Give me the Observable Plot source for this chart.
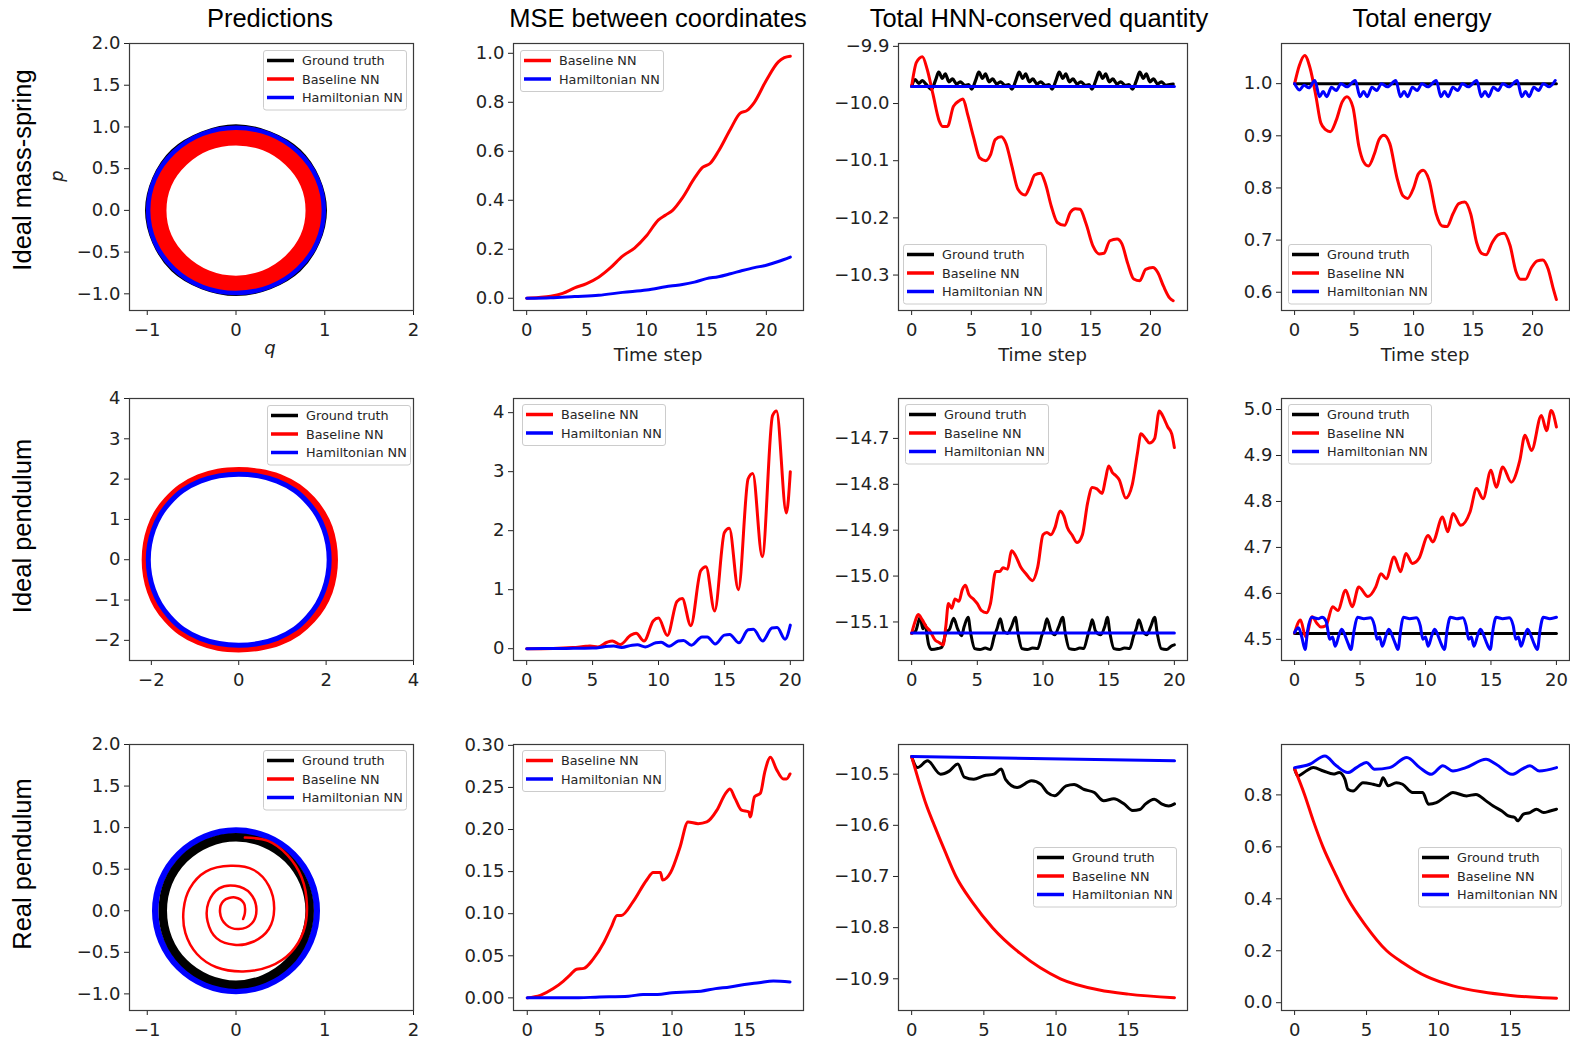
<!DOCTYPE html>
<html><head><meta charset="utf-8">
<script src="https://cdn.jsdelivr.net/npm/d3@7"></script>
<script src="https://cdn.jsdelivr.net/npm/@observablehq/plot@0.6"></script>
<style>
body{margin:0;background:#fff;}
#root{position:relative;width:1570px;height:1040px;overflow:hidden;background:#fff;}
</style></head><body><div id="root"></div>
<script>
// ---------- labels ----------
const columnTitles = ["Predictions", "MSE between coordinates", "Total HNN-conserved quantity", "Total energy"];
const rowTitles = ["Ideal mass-spring", "Ideal pendulum", "Real pendulum"];
const seriesNames = ["Ground truth", "Baseline NN", "Hamiltonian NN"];
const seriesColors = ["#000000", "#ff0000", "#0000ff"];

// ---------- Row 1: ideal mass-spring ----------
const msGtQ = [1.00,0.92,0.71,0.38,0.00,-0.38,-0.71,-0.92,-1.00,-0.92,-0.71,-0.38,0.00,0.38,0.71,0.92];
const msGtP = [0.00,0.38,0.71,0.92,1.005,0.92,0.71,0.38,0.00,-0.38,-0.71,-0.92,-1.00,-0.92,-0.71,-0.38];
const msBaseQ = [0.885,0.82,0.625,0.34,0.00,-0.34,-0.625,-0.82,-0.885,-0.82,-0.625,-0.34,0.00,0.34,0.625,0.82];
const msBaseP = [0.00,0.34,0.625,0.82,0.885,0.82,0.625,0.34,0.00,-0.34,-0.625,-0.82,-0.89,-0.82,-0.625,-0.34];
const msHnnQ = [0.99,0.915,0.70,0.38,0.00,-0.38,-0.70,-0.915,-0.99,-0.915,-0.70,-0.38,0.00,0.38,0.70,0.915];
const msHnnP = [0.00,0.38,0.70,0.915,0.99,0.915,0.70,0.38,0.00,-0.38,-0.70,-0.915,-0.99,-0.915,-0.70,-0.38];

const msMseBaseT = [0,1,2,3,4,5,6,7,8,9,10,11,11.6,12.2,13,14,14.7,15.3,16,17,17.8,18.4,19,20,21,21.5,22];
const msMseBase = [0,0.003,0.008,0.02,0.042,0.06,0.086,0.125,0.172,0.205,0.255,0.32,0.34,0.36,0.41,0.49,0.535,0.55,0.6,0.69,0.755,0.767,0.8,0.89,0.965,0.982,0.988];
const msMseHnnT = [0,2,4,6,8,10,12,13,14,15,16,17,18,19,20,21,22];
const msMseHnn = [0,0.002,0.007,0.012,0.024,0.034,0.05,0.056,0.066,0.08,0.088,0.1,0.113,0.125,0.135,0.15,0.168];

const msHnqGtT = [0,0.3,0.6,0.9,1.2,1.67, 2.02,2.27,2.57,2.82,3.12,3.42,3.77,4.07,4.47,4.77, 5.03,5.38,5.63,5.93,6.18,6.48,6.78,7.13,7.43,7.83,8.13, 8.4,8.75,9.0,9.3,9.55,9.85,10.15,10.5,10.8,11.2,11.5, 11.76,12.11,12.36,12.66,12.91,13.21,13.51,13.86,14.16,14.56,14.86, 15.1,15.45,15.7,16.0,16.25,16.55,16.85,17.2,17.5,17.9,18.2, 18.5,18.85,19.1,19.4,19.65,19.95,20.25,20.6,20.9,21.3,21.6,21.9];
const msHnqGt = [-9.97,-9.958,-9.965,-9.96,-9.966,-9.975,
 -9.958,-9.945,-9.956,-9.948,-9.962,-9.957,-9.966,-9.962,-9.968,-9.967,
 -9.975,-9.958,-9.945,-9.956,-9.948,-9.962,-9.957,-9.966,-9.962,-9.968,-9.967,
 -9.975,-9.958,-9.945,-9.956,-9.948,-9.962,-9.957,-9.966,-9.962,-9.968,-9.967,
 -9.975,-9.958,-9.945,-9.956,-9.948,-9.962,-9.957,-9.966,-9.962,-9.968,-9.967,
 -9.975,-9.958,-9.945,-9.956,-9.948,-9.962,-9.957,-9.966,-9.962,-9.968,-9.967,
 -9.975,-9.958,-9.945,-9.956,-9.948,-9.962,-9.957,-9.966,-9.962,-9.968,-9.967,-9.966];
const msHnqBaseT = [0,0.4,0.9,1.3,1.8,2.3,2.6,3.0,3.5,4.0,4.3,4.7,5.2,5.7,6.2,6.6,7.0,7.5,7.9,8.4,8.9,9.5,9.9,10.3,10.8,11.2,11.7,12.2,12.8,13.3,13.7,14.1,14.6,15.2,15.7,16.1,16.6,17.2,17.6,18.1,18.6,19.1,19.6,20.2,20.6,21.1,21.6,21.9];
const msHnqBase = [-9.97,-9.928,-9.918,-9.94,-9.985,-10.03,-10.04,-10.04,-10.005,-9.995,-9.992,-10.02,-10.06,-10.095,-10.1,-10.09,-10.063,-10.058,-10.07,-10.11,-10.15,-10.16,-10.145,-10.125,-10.122,-10.14,-10.18,-10.208,-10.213,-10.19,-10.184,-10.185,-10.21,-10.25,-10.263,-10.262,-10.24,-10.237,-10.245,-10.28,-10.307,-10.31,-10.29,-10.287,-10.295,-10.32,-10.34,-10.345];
const msHnqHnnT = [0,22];
const msHnqHnn = [-9.97,-9.97];

const msEnGtT = [0,22];
const msEnGt = [1.0,1.0];
const msEnBaseT = [0,0.4,0.85,1.3,1.8,2.2,2.6,3.0,3.5,4.0,4.4,4.9,5.4,5.8,6.2,6.7,7.1,7.5,8.0,8.6,9.1,9.5,10.0,10.4,10.8,11.3,11.9,12.4,12.8,13.3,13.8,14.3,14.8,15.3,15.7,16.1,16.6,17.1,17.6,18.1,18.6,19.0,19.4,19.9,20.4,20.85,21.3,21.7,22.0];
const msEnBase = [1.0,1.035,1.054,1.03,0.975,0.925,0.912,0.908,0.93,0.965,0.975,0.955,0.88,0.85,0.842,0.865,0.893,0.901,0.885,0.82,0.785,0.78,0.8,0.827,0.834,0.815,0.75,0.727,0.726,0.75,0.77,0.773,0.75,0.695,0.675,0.672,0.695,0.71,0.713,0.69,0.64,0.625,0.625,0.647,0.66,0.662,0.645,0.61,0.586];
const msEnHnnT = [0,0.4,0.8,1.2, 1.7,2.1,2.4,2.7,3.1,3.5,3.9,4.4, 5.1,5.5,5.8,6.1,6.5,6.9,7.3,7.8, 8.5,8.9,9.2,9.5,9.9,10.3,10.7,11.2, 11.9,12.3,12.6,12.9,13.3,13.7,14.1,14.6, 15.3,15.7,16.0,16.3,16.7,17.1,17.5,18.0, 18.7,19.1,19.4,19.7,20.1,20.5,20.9,21.4,21.9];
const msEnHnn = [1.0,0.988,0.997,0.992,
 1.006,0.975,0.985,0.975,0.993,0.987,1.0,0.994,
 1.006,0.975,0.985,0.975,0.993,0.987,1.0,0.994,
 1.006,0.975,0.985,0.975,0.993,0.987,1.0,0.994,
 1.006,0.975,0.985,0.975,0.993,0.987,1.0,0.994,
 1.006,0.975,0.985,0.975,0.993,0.987,1.0,0.994,
 1.006,0.975,0.985,0.975,0.993,0.987,1.0,0.994,1.006];

// ---------- Row 2: ideal pendulum ----------
const ipHnnQ = [2.07,2.04,1.95,1.80,1.58,1.28,0.88,0.45, 0,-0.45,-0.88,-1.28,-1.58,-1.80,-1.95,-2.04, -2.07,-2.04,-1.95,-1.80,-1.58,-1.28,-0.88,-0.45, 0,0.45,0.88,1.28,1.58,1.80,1.95,2.04];
const ipHnnP = [0,0.38,0.75,1.10,1.42,1.72,1.95,2.08, 2.12,2.08,1.95,1.72,1.42,1.10,0.75,0.38, 0,-0.38,-0.75,-1.10,-1.42,-1.72,-1.95,-2.08, -2.12,-2.08,-1.95,-1.72,-1.42,-1.10,-0.75,-0.38];
const ipBaseQ = [2.18,2.15,2.06,1.90,1.67,1.35,0.93,0.47, 0,-0.47,-0.91,-1.32,-1.63,-1.86,-2.01,-2.10, -2.13,-2.10,-2.01,-1.86,-1.63,-1.32,-0.91,-0.47, 0,0.47,0.93,1.35,1.67,1.90,2.06,2.15];
const ipBaseP = [0,0.40,0.79,1.15,1.48,1.79,2.03,2.16, 2.2,2.16,2.02,1.78,1.47,1.14,0.78,0.40, 0,-0.40,-0.78,-1.14,-1.47,-1.78,-2.02,-2.16, -2.2,-2.16,-2.03,-1.79,-1.48,-1.15,-0.79,-0.40];

const ipMseBaseT = [0,2,3.5,4.5,4.8,5.4,6.1,6.5,7.1,7.9,8.3,8.9,9.6,10.0,10.67,11.4,11.8,12.45,13.2,13.6,14.26,15.0,15.37,16.06,16.8,17.15,17.87,18.65,18.95,19.7,20.0];
const ipMseBase = [0,0.005,0.02,0.04,0.045,0.03,0.11,0.13,0.07,0.23,0.26,0.13,0.47,0.52,0.225,0.8,0.85,0.39,1.32,1.39,0.64,1.97,2.04,1.0,2.88,2.97,1.56,3.95,4.03,2.3,3.0];
const ipMseHnnT = [0,3,5,6.2,6.6,7.2,8.0,8.4,9.0,9.8,10.2,10.8,11.5,11.9,12.5,13.3,13.7,14.3,15.0,15.4,16.1,16.8,17.2,17.9,18.6,19.0,19.6,20.0];
const ipMseHnn = [0,0.005,0.01,0.04,0.045,0.02,0.06,0.065,0.03,0.1,0.11,0.04,0.13,0.14,0.06,0.2,0.2,0.08,0.23,0.24,0.1,0.32,0.33,0.13,0.35,0.36,0.16,0.4];

const ipHnqGtT = [0,0.3,0.65,0.85,1.0,1.3,1.5,2.0,2.3,2.6,2.9,3.2,3.5,3.8,4.0,4.3,4.5,4.8,5.2,5.6,6.0,6.3,6.5,6.75,7.0,7.3,7.6,7.9,8.1,8.4,8.8,9.2,9.6,9.9,10.1,10.3,10.6,10.9,11.2,11.5,11.7,12.0,12.4,12.8,13.1,13.4,13.6,13.75,14.0,14.4,14.7,14.9,15.1,15.4,15.8,16.2,16.6,16.9,17.1,17.3,17.6,17.9,18.2,18.5,18.7,19.0,19.4,19.8,20.0];
const ipHnqGt = [-15.125,-15.12,-15.09,-15.115,-15.105,-15.15,-15.16,-15.158,-15.155,-15.125,-15.115,-15.092,-15.115,-15.13,-15.11,-15.09,-15.125,-15.158,-15.16,-15.157,-15.16,-15.13,-15.115,-15.093,-15.12,-15.125,-15.11,-15.09,-15.125,-15.158,-15.16,-15.157,-15.158,-15.13,-15.115,-15.093,-15.12,-15.128,-15.11,-15.09,-15.125,-15.158,-15.16,-15.157,-15.158,-15.13,-15.11,-15.095,-15.12,-15.128,-15.11,-15.09,-15.125,-15.158,-15.16,-15.157,-15.158,-15.13,-15.115,-15.095,-15.12,-15.128,-15.11,-15.09,-15.125,-15.158,-15.16,-15.152,-15.15];
const ipHnqBaseT = [0,0.25,0.5,0.8,1.1,1.4,1.8,2.1,2.4,2.6,2.8,3.05,3.3,3.6,3.85,4.1,4.35,4.7,5.0,5.3,5.7,6.0,6.4,6.7,6.95,7.3,7.6,7.9,8.3,8.7,9.2,9.6,10.0,10.3,10.6,10.9,11.3,11.6,11.85,12.2,12.6,13.0,13.4,13.75,14.1,14.5,14.75,15.0,15.3,15.5,15.8,16.3,16.8,17.2,17.45,17.8,18.1,18.5,18.85,19.1,19.5,19.8,20.0];
const ipHnqBase = [-15.125,-15.1,-15.084,-15.095,-15.11,-15.12,-15.14,-15.145,-15.15,-15.11,-15.06,-15.07,-15.05,-15.055,-15.03,-15.02,-15.04,-15.05,-15.06,-15.075,-15.08,-15.06,-14.99,-14.99,-14.982,-14.985,-14.945,-14.955,-14.98,-14.995,-15.01,-14.98,-14.91,-14.905,-14.91,-14.895,-14.858,-14.87,-14.894,-14.91,-14.927,-14.91,-14.84,-14.807,-14.81,-14.82,-14.79,-14.76,-14.775,-14.78,-14.79,-14.83,-14.8,-14.73,-14.69,-14.7,-14.71,-14.7,-14.64,-14.65,-14.675,-14.69,-14.72];
const ipHnqHnnT = [0,20];
const ipHnqHnn = [-15.124,-15.124];

const ipEnGtT = [0,20];
const ipEnGt = [4.513,4.513];
const ipEnBaseT = [0,0.45,0.85,1.35,1.7,2.0,2.4,2.9,3.3,3.9,4.4,4.9,5.6,6.2,6.6,7.0,7.6,8.1,8.5,9.0,9.5,10.2,10.55,11.3,11.7,12.1,12.7,13.4,13.9,14.4,15.0,15.4,15.9,16.55,17.2,17.6,18.1,18.85,19.25,19.6,20.0];
const ipEnBase = [4.514,4.542,4.505,4.549,4.535,4.527,4.53,4.571,4.563,4.607,4.571,4.614,4.593,4.614,4.643,4.632,4.679,4.647,4.687,4.665,4.676,4.726,4.712,4.766,4.734,4.774,4.748,4.777,4.828,4.806,4.868,4.831,4.875,4.842,4.889,4.944,4.911,4.987,4.954,4.998,4.962];
const ipEnHnnT = [0,0.3,0.55,0.8,1.0,1.3,1.8,2.1,2.4,2.7,2.9,3.1,3.4,3.6,3.9,4.1,4.3,4.55,4.8,5.3,5.8,6.1,6.3,6.5,6.7,7.0,7.2,7.5,7.7,7.9,8.1,8.3,8.8,9.3,9.6,9.8,10.0,10.2,10.5,10.7,11.0,11.2,11.45,11.65,11.9,12.4,12.85,13.1,13.3,13.5,13.7,14.0,14.2,14.5,14.7,14.95,15.15,15.4,15.9,16.4,16.7,16.9,17.1,17.3,17.6,17.8,18.1,18.3,18.55,18.75,19.0,19.5,20.0];
const ipEnHnn = [4.515,4.525,4.505,4.478,4.52,4.548,4.545,4.548,4.54,4.5,4.505,4.485,4.51,4.522,4.505,4.49,4.478,4.52,4.548,4.545,4.547,4.53,4.5,4.505,4.485,4.51,4.522,4.505,4.49,4.478,4.52,4.548,4.545,4.547,4.53,4.5,4.505,4.485,4.51,4.522,4.505,4.49,4.478,4.52,4.548,4.545,4.547,4.53,4.5,4.505,4.485,4.51,4.522,4.505,4.49,4.478,4.52,4.548,4.545,4.547,4.53,4.5,4.505,4.485,4.51,4.522,4.505,4.49,4.478,4.52,4.548,4.545,4.548];

// ---------- Row 3: real pendulum ----------
const rpHnnQ = [0.91,0.84,0.645,0.35,0,-0.35,-0.645,-0.84,-0.91,-0.84,-0.645,-0.35,0,0.35,0.645,0.84];
const rpHnnP = [0,0.37,0.68,0.89,0.965,0.89,0.68,0.37,0,-0.37,-0.68,-0.89,-0.965,-0.89,-0.68,-0.37];
const rpGtQ = [0.83,0.765,0.585,0.317,0,-0.317,-0.585,-0.765,-0.825,-0.765,-0.585,-0.317,0,0.317,0.585,0.765];
const rpGtP = [0,0.338,0.625,0.815,0.885,0.815,0.625,0.338,0,-0.34,-0.63,-0.82,-0.89,-0.82,-0.63,-0.34];
const rpBaseQ = [0.10,0.36,0.58,0.74,0.80,0.76,0.62,0.38,0.08,-0.22,-0.44,-0.57,-0.59,-0.52,-0.34,-0.06,0.20,0.37,0.43,0.37,0.20,-0.02,-0.22,-0.32,-0.31,-0.19,-0.01,0.16,0.23,0.18,0.03,-0.11,-0.18,-0.14,-0.01,0.09,0.10,0.08];
const rpBaseP = [0.88,0.84,0.67,0.40,0.05,-0.25,-0.50,-0.67,-0.73,-0.68,-0.52,-0.27,0.02,0.27,0.47,0.54,0.49,0.30,0.02,-0.22,-0.37,-0.41,-0.33,-0.13,0.10,0.27,0.30,0.21,0.02,-0.15,-0.22,-0.17,-0.02,0.12,0.16,0.09,-0.03,-0.10];

const rpMseBaseT = [0,0.9,1.8,2.5,2.95,3.4,3.9,4.55,5.3,5.8,6.2,6.5,7.3,8.25,8.7,9.2,9.35,9.9,10.55,11.1,11.8,12.4,13.1,13.7,14.0,14.35,14.8,15.3,15.4,15.7,16.1,16.4,16.8,17.2,17.7,17.9,18.15];
const rpMseBase = [0,0.003,0.011,0.02,0.027,0.034,0.035,0.046,0.066,0.084,0.098,0.098,0.114,0.14,0.149,0.149,0.14,0.149,0.179,0.209,0.207,0.209,0.223,0.243,0.248,0.237,0.223,0.221,0.215,0.239,0.243,0.268,0.286,0.272,0.26,0.26,0.266];
const rpMseHnnT = [0,3,5,7,8,9,10,11,12,13,14,15,16,17,18.15];
const rpMseHnn = [0,0,0.001,0.002,0.004,0.004,0.006,0.007,0.008,0.011,0.013,0.016,0.018,0.02,0.019];

const rpHnqGtT = [0,0.4,1.1,2.0,2.6,3.2,3.65,4.3,5.0,5.7,6.2,6.5,7.3,8.3,8.95,9.4,9.9,10.7,11.25,11.95,12.65,13.3,14.0,14.7,15.3,15.8,16.2,16.8,17.3,17.8,18.2];
const rpHnqGt = [-10.466,-10.487,-10.474,-10.5,-10.494,-10.48,-10.506,-10.51,-10.503,-10.5,-10.49,-10.51,-10.526,-10.513,-10.52,-10.536,-10.542,-10.523,-10.52,-10.53,-10.536,-10.552,-10.548,-10.558,-10.571,-10.569,-10.558,-10.549,-10.558,-10.562,-10.558];
const rpHnqBaseT = [0,0.5,1.0,1.57,2.3,3.07,4.2,5.6,7.5,10.3,13,15,18.2];
const rpHnqBase = [-10.466,-10.514,-10.559,-10.6,-10.65,-10.7,-10.75,-10.8,-10.85,-10.9,-10.922,-10.93,-10.937];
const rpHnqHnnT = [0,18.2];
const rpHnqHnn = [-10.4656,-10.474];

const rpEnGtT = [0,0.23,0.8,1.3,2.0,2.7,3.1,3.5,3.7,4.06,4.75,5.45,5.9,6.14,6.5,7.07,7.5,8.2,8.9,9.3,9.85,10.55,11.0,11.95,12.6,13.3,13.8,14.4,14.85,15.3,15.5,15.9,16.35,16.8,17.3,17.75,18.2];
const rpEnGt = [0.9,0.873,0.892,0.905,0.892,0.88,0.886,0.86,0.822,0.815,0.847,0.841,0.835,0.866,0.835,0.847,0.841,0.809,0.809,0.764,0.77,0.796,0.809,0.796,0.802,0.777,0.757,0.738,0.719,0.713,0.7,0.726,0.732,0.745,0.732,0.738,0.745];
const rpEnBaseT = [0,0.7,1.3,1.97,2.8,3.7,4.9,6.4,7.5,9.2,11,13,15,17,18.2];
const rpEnBase = [0.9,0.8,0.7,0.6,0.5,0.4,0.3,0.2,0.155,0.1,0.065,0.042,0.028,0.02,0.017];
const rpEnHnnT = [0,1.05,2.1,2.9,3.7,4.3,5.0,5.55,6.6,7.8,8.7,9.5,10.3,11.0,11.9,13.3,14.0,15.1,15.8,16.35,17.0,18.2];
const rpEnHnn = [0.905,0.918,0.95,0.912,0.886,0.905,0.925,0.899,0.905,0.944,0.905,0.879,0.912,0.892,0.905,0.937,0.918,0.879,0.899,0.912,0.892,0.905];

// ---------- tick values ----------
const ticksQ1 = [-1,0,1,2];
const ticksP1 = [-1.0,-0.5,0.0,0.5,1.0,1.5,2.0];
const ticksT22 = [0,5,10,15,20];
const ticksT18 = [0,5,10,15];
const ticksMse1 = [0,0.2,0.4,0.6,0.8,1.0];
const ticksHnq1 = [-10.3,-10.2,-10.1,-10.0,-9.9];
const ticksEn1 = [0.6,0.7,0.8,0.9,1.0];
const ticksQ2 = [-2,0,2,4];
const ticksP2 = [-2,-1,0,1,2,3,4];
const ticksMse2 = [0,1,2,3,4];
const ticksHnq2 = [-15.1,-15.0,-14.9,-14.8,-14.7];
const ticksEn2 = [4.5,4.6,4.7,4.8,4.9,5.0];
const ticksMse3 = [0,0.05,0.10,0.15,0.20,0.25,0.30];
const ticksHnq3 = [-10.9,-10.8,-10.7,-10.6,-10.5];
const ticksEn3 = [0.0,0.2,0.4,0.6,0.8];

// ---------- layout ----------
const FRAME_X = [[129,413],[513,803],[898,1187],[1281,1569]];
const FRAME_Y = [[43,310],[398,660],[744,1010]];
const root = document.getElementById("root");
const f1 = d3.format(".1f"), f2 = d3.format(".2f"), fd = d3.format("d");
const BLACK = seriesColors[0], RED = seriesColors[1], BLUE = seriesColors[2];

function S(x, y, color, width, curve) { return {x, y, color, width, curve}; }

function addPanel(row, col, o) {
  const [x0, x1] = FRAME_X[col], [y0, y1] = FRAME_Y[row];
  const mL = 80, mR = 1, mT = 2, mB = 40;
  const width = x1 - x0 + mL + mR, height = y1 - y0 + mT + mB;
  const marks = o.series.map(s => Plot.line(s.x.map((x, i) => ({x, y: s.y[i]})), {
    x: "x", y: "y", stroke: s.color, strokeWidth: s.width,
    curve: s.curve || "monotone-x", strokeLinejoin: "round"
  }));
  marks.push(Plot.frame({stroke: "#3a3a3a", strokeWidth: 1.2}));
  const svg = Plot.plot({
    width, height, marginLeft: mL, marginRight: mR, marginTop: mT, marginBottom: mB,
    x: {domain: o.xDomain, ticks: o.xTicks, tickFormat: o.xFmt, tickSize: 5, tickPadding: 8, label: null},
    y: {domain: o.yDomain, ticks: o.yTicks, tickFormat: o.yFmt, tickSize: 5, tickPadding: 4, label: null},
    style: {background: "transparent", fontFamily: "DejaVu Sans", fontSize: "18px", color: "#222", overflow: "visible", maxWidth: "none"},
    marks
  });
  svg.style.position = "absolute";
  svg.style.left = (x0 - mL) + "px";
  svg.style.top = (y0 - mT) + "px";
  root.appendChild(svg);
}

const closed = "catmull-rom-closed";
// Row 1
addPanel(0, 0, {xDomain: [-1.2, 2], yDomain: [-1.2, 2.0], xTicks: ticksQ1, yTicks: ticksP1, xFmt: fd, yFmt: f1,
  series: [S(msGtQ, msGtP, BLACK, 4.5, closed), S(msBaseQ, msBaseP, RED, 18, closed), S(msHnnQ, msHnnP, BLUE, 4.5, closed)]});
addPanel(0, 1, {xDomain: [-1.1, 23.1], yDomain: [-0.05, 1.04], xTicks: ticksT22, yTicks: ticksMse1, xFmt: fd, yFmt: f1,
  series: [S(msMseBaseT, msMseBase, RED, 3), S(msMseHnnT, msMseHnn, BLUE, 3)]});
addPanel(0, 2, {xDomain: [-1.1, 23.1], yDomain: [-10.362, -9.895], xTicks: ticksT22, yTicks: ticksHnq1, xFmt: fd, yFmt: f1,
  series: [S(msHnqGtT, msHnqGt, BLACK, 3.2), S(msHnqBaseT, msHnqBase, RED, 3), S(msHnqHnnT, msHnqHnn, BLUE, 3)]});
addPanel(0, 3, {xDomain: [-1.1, 23.1], yDomain: [0.565, 1.077], xTicks: ticksT22, yTicks: ticksEn1, xFmt: fd, yFmt: f1,
  series: [S(msEnGtT, msEnGt, BLACK, 3), S(msEnBaseT, msEnBase, RED, 3), S(msEnHnnT, msEnHnn, BLUE, 3)]});
// Row 2
addPanel(1, 0, {xDomain: [-2.5, 4], yDomain: [-2.5, 4], xTicks: ticksQ2, yTicks: ticksP2, xFmt: fd, yFmt: fd,
  series: [S(ipHnnQ, ipHnnP, BLACK, 3, closed), S(ipBaseQ, ipBaseP, RED, 8, closed), S(ipHnnQ, ipHnnP, BLUE, 5, closed)]});
addPanel(1, 1, {xDomain: [-1, 21], yDomain: [-0.2, 4.24], xTicks: ticksT22, yTicks: ticksMse2, xFmt: fd, yFmt: fd,
  series: [S(ipMseBaseT, ipMseBase, RED, 3), S(ipMseHnnT, ipMseHnn, BLUE, 3)]});
addPanel(1, 2, {xDomain: [-1, 21], yDomain: [-15.184, -14.613], xTicks: ticksT22, yTicks: ticksHnq2, xFmt: fd, yFmt: f1,
  series: [S(ipHnqGtT, ipHnqGt, BLACK, 3), S(ipHnqBaseT, ipHnqBase, RED, 3), S(ipHnqHnnT, ipHnqHnn, BLUE, 3)]});
addPanel(1, 3, {xDomain: [-1, 21], yDomain: [4.454, 5.024], xTicks: ticksT22, yTicks: ticksEn2, xFmt: fd, yFmt: f1,
  series: [S(ipEnGtT, ipEnGt, BLACK, 3), S(ipEnBaseT, ipEnBase, RED, 3), S(ipEnHnnT, ipEnHnn, BLUE, 3)]});
// Row 3
addPanel(2, 0, {xDomain: [-1.2, 2], yDomain: [-1.2, 2.0], xTicks: ticksQ1, yTicks: ticksP1, xFmt: fd, yFmt: f1,
  series: [S(rpHnnQ, rpHnnP, BLUE, 6.5, closed), S(rpGtQ, rpGtP, BLACK, 8.5, closed), S(rpBaseQ, rpBaseP, RED, 2.5, "catmull-rom")]});
addPanel(2, 1, {xDomain: [-0.95, 19.08], yDomain: [-0.015, 0.301], xTicks: ticksT18, yTicks: ticksMse3, xFmt: fd, yFmt: f2,
  series: [S(rpMseBaseT, rpMseBase, RED, 3), S(rpMseHnnT, rpMseHnn, BLUE, 3)]});
addPanel(2, 2, {xDomain: [-0.91, 19.1], yDomain: [-10.962, -10.442], xTicks: ticksT18, yTicks: ticksHnq3, xFmt: fd, yFmt: f1,
  series: [S(rpHnqGtT, rpHnqGt, BLACK, 3), S(rpHnqBaseT, rpHnqBase, RED, 3), S(rpHnqHnnT, rpHnqHnn, BLUE, 3)]});
addPanel(2, 3, {xDomain: [-0.91, 19.1], yDomain: [-0.03, 0.994], xTicks: ticksT18, yTicks: ticksEn3, xFmt: fd, yFmt: f1,
  series: [S(rpEnGtT, rpEnGt, BLACK, 3), S(rpEnBaseT, rpEnBase, RED, 3), S(rpEnHnnT, rpEnHnn, BLUE, 3)]});

// ---------- overlay: titles, labels, legends ----------
const ov = d3.select(root).append("svg").attr("width", 1570).attr("height", 1040)
  .style("position", "absolute").style("left", "0px").style("top", "0px");

const titleX = [270, 658, 1039, 1422];
columnTitles.forEach((t, i) => ov.append("text").attr("x", titleX[i]).attr("y", 27)
  .attr("text-anchor", "middle").attr("font-family", "Liberation Sans, Arial, sans-serif")
  .attr("font-size", 25.5).attr("fill", "#000").text(t));

const rowY = [170, 526, 864];
rowTitles.forEach((t, i) => ov.append("text").attr("transform", `translate(31,${rowY[i]}) rotate(-90)`)
  .attr("text-anchor", "middle").attr("font-family", "Liberation Sans, Arial, sans-serif")
  .attr("font-size", 25.5).attr("fill", "#000").text(t));

// axis labels
ov.append("text").attr("x", 270).attr("y", 354).attr("text-anchor", "middle")
  .attr("font-family", "DejaVu Sans").attr("font-style", "italic").attr("font-size", 18).attr("fill", "#222").text("q");
ov.append("text").attr("transform", "translate(63,176) rotate(-90)").attr("text-anchor", "middle")
  .attr("font-family", "DejaVu Sans").attr("font-style", "italic").attr("font-size", 18).attr("fill", "#222").text("p");
[1, 2, 3].forEach(c => ov.append("text").attr("x", (FRAME_X[c][0] + FRAME_X[c][1]) / 2).attr("y", 361)
  .attr("text-anchor", "middle").attr("font-family", "DejaVu Sans").attr("font-size", 18).attr("fill", "#222").text("Time step"));

function legend(x, y, idx) {
  const g = ov.append("g").attr("transform", `translate(${x},${y})`);
  g.append("rect").attr("x", 0.5).attr("y", 0.5).attr("width", 143).attr("height", idx.length * 18.5 + 4)
    .attr("rx", 2.5).attr("fill", "#fff").attr("fill-opacity", 0.8).attr("stroke", "#cccccc").attr("stroke-width", 1);
  idx.forEach((k, i) => {
    const cy = 10.5 + i * 18.5;
    g.append("line").attr("x1", 4).attr("x2", 31).attr("y1", cy).attr("y2", cy)
      .attr("stroke", seriesColors[k]).attr("stroke-width", 3.5);
    g.append("text").attr("x", 39).attr("y", cy).attr("dy", "0.36em")
      .attr("font-family", "DejaVu Sans").attr("font-size", 12.8).attr("fill", "#262626").text(seriesNames[k]);
  });
}
const ALL = [0, 1, 2], TWO = [1, 2];
legend(263, 50, ALL); legend(520, 50, TWO); legend(903, 244, ALL); legend(1288, 244, ALL);
legend(267, 405, ALL); legend(522, 404, TWO); legend(905, 404, ALL); legend(1288, 404, ALL);
legend(263, 750, ALL); legend(522, 750, TWO); legend(1033, 847, ALL); legend(1418, 847, ALL);
</script></body></html>
